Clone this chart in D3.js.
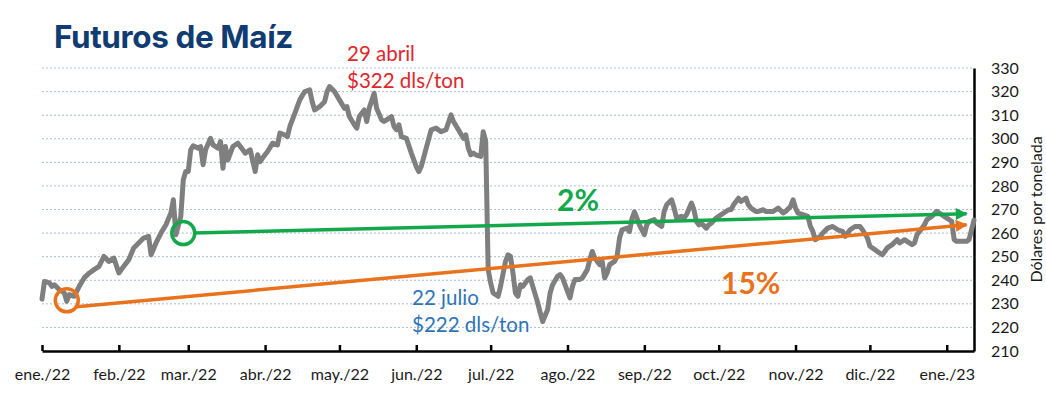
<!DOCTYPE html>
<html>
<head>
<meta charset="utf-8">
<script src="https://cdn.jsdelivr.net/npm/d3@7"></script>
<style>
  body { margin: 0; background: #fff; }
  svg { display: block; }
  text { font-family: Lato, "Open Sans", sans-serif; }
</style>
</head>
<body>
<div id="chart"></div>
<script>
// precio futuros de maíz, dls/ton
var dates = [
  "2022-01-01","2022-01-02","2022-01-04","2022-01-05","2022-01-06","2022-01-08","2022-01-10","2022-01-11","2022-01-12","2022-01-14",
  "2022-01-16","2022-01-18","2022-01-20","2022-01-22","2022-01-24","2022-01-26","2022-01-28","2022-01-30","2022-02-01","2022-02-03",
  "2022-02-05","2022-02-07","2022-02-09","2022-02-11","2022-02-13","2022-02-14","2022-02-16","2022-02-18","2022-02-20","2022-02-22",
  "2022-02-23","2022-02-24","2022-02-26","2022-02-27","2022-02-28","2022-03-01","2022-03-02","2022-03-03","2022-03-05","2022-03-06",
  "2022-03-07","2022-03-08","2022-03-10","2022-03-11","2022-03-13","2022-03-14","2022-03-15","2022-03-16","2022-03-17","2022-03-18",
  "2022-03-19","2022-03-21","2022-03-23","2022-03-24","2022-03-26","2022-03-28","2022-03-29","2022-03-30","2022-03-31","2022-04-02",
  "2022-04-04","2022-04-06","2022-04-07","2022-04-09","2022-04-10","2022-04-11","2022-04-13","2022-04-15","2022-04-17","2022-04-19",
  "2022-04-20","2022-04-21","2022-04-23","2022-04-25","2022-04-26","2022-04-27","2022-04-29","2022-05-01","2022-05-03","2022-05-04",
  "2022-05-05","2022-05-07","2022-05-08","2022-05-09","2022-05-11","2022-05-12","2022-05-13","2022-05-15","2022-05-16","2022-05-18",
  "2022-05-19","2022-05-20","2022-05-22","2022-05-23","2022-05-24","2022-05-25","2022-05-26","2022-05-28","2022-05-30","2022-06-01",
  "2022-06-02","2022-06-03","2022-06-05","2022-06-07","2022-06-09","2022-06-11","2022-06-13","2022-06-15","2022-06-16","2022-06-18",
  "2022-06-20","2022-06-21","2022-06-22","2022-06-23","2022-06-24","2022-06-25","2022-06-27","2022-06-28","2022-06-29","2022-06-30",
  "2022-07-01","2022-07-02","2022-07-04","2022-07-05","2022-07-07","2022-07-08","2022-07-09","2022-07-10","2022-07-11","2022-07-12",
  "2022-07-13","2022-07-14","2022-07-16","2022-07-17","2022-07-18","2022-07-20","2022-07-21","2022-07-22","2022-07-24","2022-07-25",
  "2022-07-26","2022-07-28","2022-07-29","2022-07-30","2022-08-01","2022-08-02","2022-08-03","2022-08-04","2022-08-06","2022-08-07",
  "2022-08-09","2022-08-10","2022-08-11","2022-08-12","2022-08-14","2022-08-15","2022-08-16","2022-08-17","2022-08-18","2022-08-20",
  "2022-08-21","2022-08-22","2022-08-23","2022-08-25","2022-08-26","2022-08-27","2022-08-28","2022-08-29","2022-08-30","2022-09-01",
  "2022-09-02","2022-09-03","2022-09-05","2022-09-06","2022-09-08","2022-09-09","2022-09-10","2022-09-12","2022-09-13","2022-09-14",
  "2022-09-16","2022-09-17","2022-09-18","2022-09-20","2022-09-21","2022-09-22","2022-09-23","2022-09-24","2022-09-26","2022-09-27",
  "2022-09-28","2022-09-30","2022-10-02","2022-10-03","2022-10-05","2022-10-06","2022-10-07","2022-10-09","2022-10-10","2022-10-12",
  "2022-10-13","2022-10-14","2022-10-16","2022-10-17","2022-10-19","2022-10-20","2022-10-21","2022-10-23","2022-10-24","2022-10-25",
  "2022-10-27","2022-10-28","2022-10-30","2022-10-31","2022-11-01","2022-11-02","2022-11-04","2022-11-06","2022-11-07","2022-11-08",
  "2022-11-09","2022-11-11","2022-11-12","2022-11-14","2022-11-16","2022-11-18","2022-11-20","2022-11-21","2022-11-23","2022-11-25",
  "2022-11-27","2022-11-28","2022-11-30","2022-12-01","2022-12-03","2022-12-04","2022-12-06","2022-12-07","2022-12-08","2022-12-10",
  "2022-12-12","2022-12-13","2022-12-15","2022-12-16","2022-12-18","2022-12-19","2022-12-20","2022-12-22","2022-12-23","2022-12-24",
  "2022-12-26","2022-12-28","2022-12-29","2022-12-31","2023-01-02","2023-01-03","2023-01-04","2023-01-05","2023-01-07","2023-01-09",
  "2023-01-10","2023-01-11","2023-01-12"
];
var prices = [
  232,239.5,238.9,237.4,238.1,236,234.6,231.1,233.9,233.2,
  237.4,241,243,244.5,245.9,250.1,248,249.4,243.1,245.9,
  248.7,253.7,255.8,257.9,258.6,250.8,255.8,260,263.5,268.5,
  274.1,259.3,267.1,282.6,286.1,286.1,295.3,297,296,296.7,
  289,295.3,300.2,297.4,296,298.8,287.5,296.7,291,293.9,
  296.7,298.1,295.3,293.9,295.3,286.1,293.2,290.3,291.8,294.6,
  298.1,297.4,302.4,301.6,300.9,305.2,310.8,316.5,320,320.7,
  315.7,312.2,313.6,315.7,320,322.1,320,316.5,312.9,313.6,
  309.4,305.9,304.5,309.4,312.2,307.3,312.9,319.3,312.9,308,
  307.3,308,309.4,305.2,303.8,305.9,300.9,300.2,293.9,288.2,
  286.1,288.2,296,303.8,304.5,303,303.8,310.1,307.3,303.8,
  300.2,301.6,296,293.2,293.9,293.2,292.5,303,299,244.5,
  238.9,234.6,233.2,237.4,248,250.8,250.1,243.1,234.6,233.2,
  238.1,237.4,240.3,241,237.4,230.4,226.2,222.5,227.6,234.6,
  238.1,241.7,242.4,241,235.3,232.5,237.4,240.3,240.3,241,
  244.5,248.7,252.2,249.4,246.6,248,241,243.1,246.6,248,
  250.1,257.9,261.4,262.1,260.7,266,269,266.4,263.5,259.3,
  263.5,265,265.7,264.2,262.8,269.2,272,274.1,270.6,266.4,
  267.1,266.4,267.8,272.7,269.9,265,263.5,264.2,262.1,263.5,
  264.2,266.4,267.8,268.5,269.9,269.9,272,274.8,273.4,274.8,
  272,270.6,269.2,269.2,269.9,269.2,269.2,269.2,269.9,270.6,
  268.5,269.2,271.3,274.1,270.6,268.5,267.8,267.1,262.8,260.7,
  257.2,258.6,260,262.1,262.8,261.4,260.7,258.6,261.4,262.8,
  262.8,261.4,257.9,254.4,253,252.2,250.8,252.2,253.7,255.1,
  257.2,255.8,257.2,256.5,255.1,255.8,259.3,262.1,263.5,265.7,
  267.1,269.2,268.5,267.1,265.7,265,257.2,256.5,256.5,256.5,
  257.2,261.4,265.5
];

var monthTicks = ["2022-01-01","2022-02-01","2022-03-01","2022-04-01","2022-05-01","2022-06-01","2022-07-01",
  "2022-08-01","2022-09-01","2022-10-01","2022-11-01","2022-12-01","2023-01-01"];
var monthLabels = ["ene./22","feb./22","mar./22","abr./22","may./22","jun./22","jul./22",
  "ago./22","sep./22","oct./22","nov./22","dic./22","ene./23"];
var yTicks = [210, 220, 230, 240, 250, 260, 270, 280, 290, 300, 310, 320, 330];

// tendencias (2% y 15%)
var greenDates = ["2022-03-03", "2023-01-09"];
var greenValues = [260, 268.2];
var greenCircle = ["2022-02-27", 260];
var orangeDates = ["2022-01-15", "2023-01-09"];
var orangeValues = [228.8, 263.5];
var orangeCircle = ["2022-01-11", 231.5];

var parse = d3.timeParse("%Y-%m-%d");

var GREEN = "#13a84b", ORANGE = "#e8731c", GRAY = "#7f7f7f";

var margin = {top: 68, right: 72, bottom: 45, left: 42},
    width = 1046 - margin.left - margin.right,
    height = 396 - margin.top - margin.bottom;

var svgRoot = d3.select("#chart")
    .append("svg")
    .attr("width", 1046)
    .attr("height", 396);

var svg = svgRoot.append("g")
    .attr("transform", "translate(" + margin.left + "," + margin.top + ")");

var x = d3.scaleTime()
    .domain([parse("2022-01-01"), parse("2023-01-12")])
    .range([0, width]);

var y = d3.scaleLinear()
    .domain([210, 330])
    .range([height, 0]);

// title
svgRoot.append("text")
    .attr("x", 54)
    .attr("y", 48)
    .text("Futuros de Maíz")
    .style("font-family", "Inter, Lato, sans-serif")
    .style("font-weight", 700)
    .style("font-size", "31.5px")
    .style("letter-spacing", "-0.4px")
    .style("fill", "#103c72");

// grid
svg.selectAll(".grid")
    .data(yTicks.slice(1))
    .enter()
    .append("line")
    .attr("class", "grid")
    .attr("x1", 0)
    .attr("x2", width)
    .attr("y1", function(d) { return y(d); })
    .attr("y2", function(d) { return y(d); })
    .attr("stroke", "#aebdd0")
    .attr("stroke-width", 1)
    .attr("stroke-dasharray", "2,2");

// axes
var xAxis = svg.append("g")
    .attr("transform", "translate(0," + height + ")")
    .call(d3.axisBottom(x)
        .tickValues(monthTicks.map(parse))
        .tickSizeInner(-6)
        .tickSizeOuter(0)
        .tickFormat(function(d, i) { return monthLabels[i]; }));
xAxis.select(".domain").attr("stroke", "#000").attr("stroke-width", 2.5);
xAxis.selectAll(".tick line").attr("stroke", "#000").attr("stroke-width", 2.5);
xAxis.selectAll(".tick text")
    .attr("y", 18)
    .style("font-size", "16px")
    .style("font-family", "Lato, sans-serif")
    .style("fill", "#1a1a1a");

var yAxis = svg.append("g")
    .attr("transform", "translate(" + width + ",0)")
    .call(d3.axisRight(y)
        .tickValues(yTicks)
        .tickSize(0)
        .tickPadding(17));
yAxis.select(".domain").attr("stroke", "#000").attr("stroke-width", 2.5);
yAxis.selectAll(".tick text")
    .style("font-size", "16px")
    .style("font-family", "Lato, sans-serif")
    .style("fill", "#1a1a1a");

svg.append("text")
    .attr("transform", "translate(" + (width + 62) + "," + (height / 2) + ") rotate(-90)")
    .attr("text-anchor", "middle")
    .attr("dy", "0.35em")
    .text("Dólares por tonelada")
    .style("font-size", "16px")
    .style("fill", "#1a1a1a");

// price line
var series = dates.map(function(d, i) { return {date: parse(d), value: prices[i]}; });

svg.append("path")
    .datum(series)
    .attr("fill", "none")
    .attr("stroke", GRAY)
    .attr("stroke-width", 5)
    .attr("stroke-linejoin", "round")
    .attr("stroke-linecap", "round")
    .attr("d", d3.line()
        .x(function(d) { return x(d.date); })
        .y(function(d) { return y(d.value); }));

// arrows
var defs = svgRoot.append("defs");
[["arrowGreen", GREEN], ["arrowOrange", ORANGE]].forEach(function(m) {
    defs.append("marker")
        .attr("id", m[0])
        .attr("viewBox", "0 0 10 10")
        .attr("refX", 9)
        .attr("refY", 5)
        .attr("markerUnits", "userSpaceOnUse")
        .attr("markerWidth", 14)
        .attr("markerHeight", 12)
        .attr("orient", "auto")
        .append("path")
        .attr("d", "M0,0L10,5L0,10z")
        .attr("fill", m[1]);
});

function trend(ds, vs, color, marker) {
    svg.append("line")
        .attr("x1", x(parse(ds[0])))
        .attr("y1", y(vs[0]))
        .attr("x2", x(parse(ds[1])))
        .attr("y2", y(vs[1]))
        .attr("stroke", color)
        .attr("stroke-width", 3.5)
        .attr("marker-end", "url(#" + marker + ")");
}
trend(orangeDates, orangeValues, ORANGE, "arrowOrange");
trend(greenDates, greenValues, GREEN, "arrowGreen");

[[greenCircle, GREEN], [orangeCircle, ORANGE]].forEach(function(c) {
    svg.append("circle")
        .attr("cx", x(parse(c[0][0])))
        .attr("cy", y(c[0][1]))
        .attr("r", 11.5)
        .attr("fill", "none")
        .attr("stroke", c[1])
        .attr("stroke-width", 3.5);
});

// annotations
svgRoot.append("text").attr("x", 347).attr("y", 61).text("29 abril")
    .style("font-size", "20.5px").style("fill", "#e0262c");
svgRoot.append("text").attr("x", 347).attr("y", 88).text("$322 dls/ton")
    .style("font-size", "20.5px").style("fill", "#e0262c");
svgRoot.append("text").attr("x", 412).attr("y", 305).text("22 julio")
    .style("font-size", "20.5px").style("fill", "#2e75b6");
svgRoot.append("text").attr("x", 412).attr("y", 332).text("$222 dls/ton")
    .style("font-size", "20.5px").style("fill", "#2e75b6");

svgRoot.append("text").attr("x", 557).attr("y", 211).text("2%")
    .style("font-size", "30px").style("font-weight", 700).style("fill", GREEN);
svgRoot.append("text").attr("x", 721).attr("y", 294).text("15%")
    .style("font-size", "30px").style("font-weight", 700).style("fill", ORANGE);
</script>
</body>
</html>
